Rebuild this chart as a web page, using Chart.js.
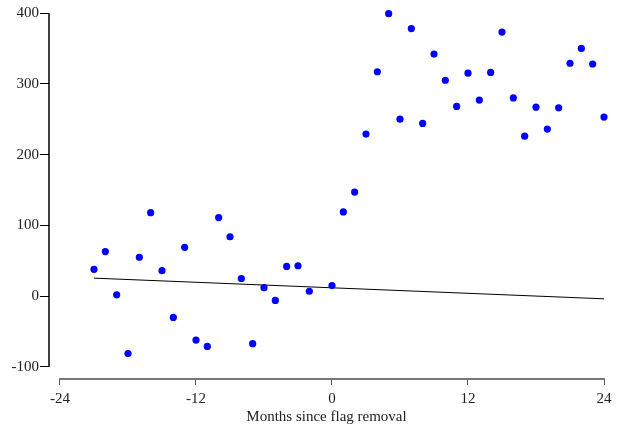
<!DOCTYPE html>
<html>
<head>
<meta charset="utf-8">
<script src="https://cdn.jsdelivr.net/npm/chart.js@4/dist/chart.umd.min.js"></script>
<style>
  html, body { margin: 0; padding: 0; background: #fff; }
  #wrap { width: 631px; height: 430px; }
</style>
</head>
<body>
<div id="wrap"><canvas id="chart" width="631" height="430"></canvas></div>
<script>
// months since flag removal (no observation at -1)
const months = [-21, -20, -19, -18, -17, -16, -15, -14, -13, -12, -11, -10, -9, -8, -7, -6, -5, -4, -3, -2,
  0, 1, 2, 3, 4, 5, 6, 7, 8, 9, 10, 11, 12, 13, 14, 15, 16, 17, 18, 19, 20, 21, 22, 23, 24];
const values = [38, 63, 2, -81, 55, 118, 36, -30, 69, -62, -71, 111, 84, 25, -67, 12, -6, 42, 43, 7,
  15, 119, 147, 229, 317, 399, 250, 378, 244, 342, 305, 268, 315, 277, 316, 373, 280, 226, 267, 236, 266, 329, 350, 328, 253];

// fitted pre-trend line, endpoints
const fitX = [-21, 24];
const fitY = [25.5, -3.7];

const xTicks = [-24, -12, 0, 12, 24];
const yTicks = [-100, 0, 100, 200, 300, 400];

const FONT = { family: "'Liberation Serif', 'DejaVu Serif', serif", size: 15 };
const TEXT = "#222";

/* separated axis lines, drawn through the scales */
const axisLines = {
  id: "axisLines",
  afterDraw(chart) {
    const { ctx, chartArea, scales } = chart;
    ctx.save();
    ctx.lineWidth = 2;
    ctx.strokeStyle = "#777";
    ctx.beginPath();
    ctx.moveTo(scales.x.getPixelForValue(xTicks[0]) - 1, chartArea.bottom);
    ctx.lineTo(scales.x.getPixelForValue(xTicks[xTicks.length - 1]) + 1, chartArea.bottom);
    ctx.stroke();

    ctx.lineWidth = 1.5;
    ctx.strokeStyle = "#000";
    ctx.beginPath();
    ctx.moveTo(chartArea.left, scales.y.getPixelForValue(yTicks[0]));
    ctx.lineTo(chartArea.left, scales.y.getPixelForValue(yTicks[yTicks.length - 1]));
    ctx.stroke();
    ctx.restore();
  }
};

new Chart(document.getElementById("chart"), {
  type: "scatter",
  data: {
    datasets: [
      {
        label: "Observed",
        data: months.map((m, i) => ({ x: m, y: values[i] })),
        backgroundColor: "#0000ff",
        borderWidth: 0,
        pointRadius: 3.6,
        pointHoverRadius: 3.6,
        clip: false
      },
      {
        type: "line",
        label: "Fit",
        data: fitX.map((m, i) => ({ x: m, y: fitY[i] })),
        borderColor: "#000",
        borderWidth: 1,
        pointRadius: 0,
        fill: false,
        clip: false
      }
    ]
  },
  options: {
    responsive: false,
    animation: false,
    layout: { padding: { top: 13, right: 27, left: 0, bottom: 0 } },
    plugins: { legend: { display: false }, tooltip: { enabled: false } },
    scales: {
      x: {
        type: "linear",
        min: -24.97,
        max: 24,
        afterBuildTicks: s => { s.ticks = xTicks.map(v => ({ value: v })); },
        afterFit: s => { s.height = 51; },
        border: { display: false },
        grid: { drawOnChartArea: false, drawTicks: true, tickLength: 6, color: "#555", lineWidth: 1 },
        ticks: { font: FONT, color: TEXT, padding: 5, maxRotation: 0 },
        title: { display: true, text: "Months since flag removal", font: FONT, color: TEXT, padding: { top: 0, bottom: 4 } }
      },
      y: {
        type: "linear",
        min: -116.95,
        max: 400,
        afterBuildTicks: s => { s.ticks = yTicks.map(v => ({ value: v })); },
        afterFit: s => { s.width = 49; },
        border: { display: false },
        grid: { drawOnChartArea: false, drawTicks: true, tickLength: 9, color: "#000", lineWidth: 1 },
        ticks: { font: FONT, color: TEXT, padding: 1 }
      }
    }
  },
  plugins: [axisLines]
});
</script>
</body>
</html>
